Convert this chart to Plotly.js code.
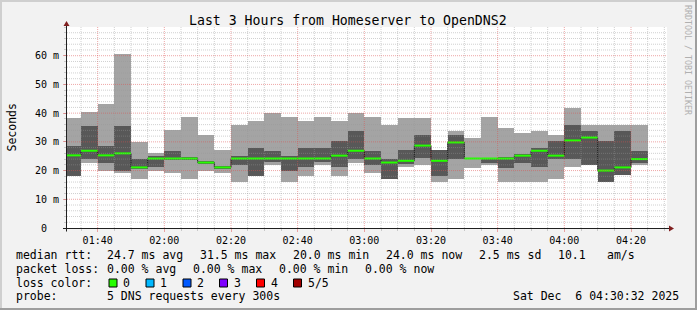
<!DOCTYPE html>
<html><head><meta charset="utf-8">
<script src="https://cdn.plot.ly/plotly-3.0.1.min.js"></script>
<style>html,body{margin:0;padding:0;background:#f2f2f2;}#chart{width:697px;height:310px;}</style>
</head><body><div id="chart"></div>
<script>
// ---------- data ----------
const day = '2025-12-06 ';
const binStarts = ['01:30','01:35','01:40','01:45','01:50','01:55','02:00','02:05','02:10','02:15',
  '02:20','02:25','02:30','02:35','02:40','02:45','02:50','02:55','03:00','03:05',
  '03:10','03:15','03:20','03:25','03:30','03:35','03:40','03:45','03:50','03:55',
  '04:00','04:05','04:10','04:15','04:20'];
// RTT in ms for the 5 sorted pings of each 5-minute step
const pingMin = [18.2,22.8,20.0,19.0,17.2,20.0,19.0,17.2,20.0,19.0,16.1,18.2,21.8,16.1,18.2,21.8,18.2,22.8,19.0,17.1,21.4,21.8,16.1,17.1,21.0,21.8,16.1,16.1,16.1,17.2,21.1,21.8,16.1,18.3,21.8];
const pingLo  = [18.2,24.1,22.8,20.0,20.5,21.1,23.6,23.8,22.4,20.6,21.8,18.2,22.9,20.0,21.3,22.9,21.1,24.1,21.8,17.1,22.4,24.5,18.2,24.2,23.9,22.8,21.0,22.8,21.1,24.2,24.2,21.8,16.1,18.3,22.8];
const pingMed = [25.3,26.9,25.3,26.0,21.1,24.2,24.2,24.2,22.8,21.1,24.2,24.2,24.2,24.2,24.2,24.2,25.2,26.9,24.2,22.8,23.4,28.7,23.4,29.8,24.2,24.2,24.2,25.2,26.9,25.2,30.5,31.5,20.0,21.1,24.0];
const pingHi  = [28.6,35.6,28.6,35.6,24.1,25.1,26.9,24.6,23.2,21.5,25.2,27.9,26.9,25.1,27.9,27.9,30.4,33.8,26.9,24.1,27.2,32.5,27.2,32.5,24.5,24.5,24.6,25.8,27.9,30.4,35.9,33.8,30.4,33.8,26.9];
const pingMax = [38.4,40.4,43.2,60.6,29.8,26.2,34.2,38.7,32.5,27.2,36.0,37.1,40.1,38.7,37.1,38.7,37.1,40.1,38.7,36.0,38.4,38.4,27.2,33.8,31.5,38.7,34.9,33.2,33.8,32.5,41.8,35.9,35.9,35.9,35.9];

const yTickVals = [0,10,20,30,40,50,60];
const yTickText = ['0  ','10 m','20 m','30 m','40 m','50 m','60 m'];
const titleText = 'Last 3 Hours from Homeserver to OpenDNS2';
const yTitle = 'Seconds';
const rttLabels = ['median rtt:','24.7 ms avg','31.5 ms max','20.0 ms min','24.0 ms now','2.5 ms sd','10.1','am/s'];
const lossLabelsRow = ['packet loss:','0.00 % avg','0.00 % max','0.00 % min','0.00 % now'];
const lossColorLabel = 'loss color:';
const lossLabels = ['0','1','2','3','4','5/5'];
const lossColors = ['#26ff00','#00b8ff','#0059ff','#7e00ff','#ff0000','#a10000'];
const probeLabels = ['probe:','5 DNS requests every 300s'];
const dateStamp = 'Sat Dec  6 04:30:32 2025';
const sideText = 'RRDTOOL / TOBI OETIKER';

// ---------- helpers ----------
const STEP = 300000;
function addMin(hhmm, m){const [h,mm]=hhmm.split(':').map(Number);const t=h*60+mm+m;return String(Math.floor(t/60)).padStart(2,'0')+':'+String(t%60).padStart(2,'0');}
const L=67, T=27, W=600, H=201;
const X = px => (px-L)/W;
const Y = py => (T+H-py)/H;
const nb = s => s.replace(/ /g,'\u00a0');
const MONO = 'DejaVu Sans Mono';
function ann(text, px, py, o){return Object.assign({xref:'paper',yref:'paper',x:X(px-1.5),y:Y(py),text:nb(text),showarrow:false,xanchor:'left',yanchor:'middle',borderpad:0,font:{family:MONO,size:11.5,color:'#000'}},o||{});}

const xs = binStarts.map(s=>day+s);

// ---------- traces ----------
const outer = {type:'bar', x:xs, base:pingMin, y:pingMax.map((v,i)=>v-pingMin[i]), offset:0, width:STEP,
  marker:{color:'#a4a4a4', line:{width:0}}, hoverinfo:'skip'};
const inner = {type:'bar', x:xs, base:pingLo, y:pingHi.map((v,i)=>v-pingLo[i]), offset:0, width:STEP,
  marker:{color:'#585858', line:{width:0}}, hoverinfo:'skip'};
const stepX = xs.concat([day+addMin(binStarts[binStarts.length-1],5)]);
const stepY = pingMed.concat([pingMed[pingMed.length-1]]);
const medStep = {type:'scatter', mode:'lines', x:stepX, y:stepY, line:{shape:'hv', color:'#202020', width:1}, hoverinfo:'skip'};
const gx=[], gy=[];
binStarts.forEach((s,i)=>{gx.push(day+s, day+addMin(s,5), null); gy.push(pingMed[i], pingMed[i], null);});
const medGreen = {type:'scatter', mode:'lines', x:gx, y:gy, line:{color:lossColors[0], width:2}, connectgaps:false, hoverinfo:'skip'};

// ---------- shapes (grid on top, axes, frame) ----------
const shapes = [];
const minorCol='rgba(150,150,150,0.45)', majorCol='rgba(222,79,79,0.5)';
for(let t=95; t<=270; t+=5){ // minutes after 00:00, 01:35 .. 04:30
  const hh=String(Math.floor(t/60)).padStart(2,'0'), mm=String(t%60).padStart(2,'0');
  const major = t%20===0;
  shapes.push({type:'line', layer:'above', xref:'x', yref:'paper', x0:day+hh+':'+mm, x1:day+hh+':'+mm, y0:0, y1:1,
    line:{color: major?majorCol:minorCol, width:1, dash:'1px,1px'}});
}
for(let v=2; v<=68; v+=2){
  const major = v%10===0;
  shapes.push({type:'line', layer:'above', xref:'paper', yref:'y', x0:0, x1:1, y0:v, y1:v,
    line:{color: major?majorCol:minorCol, width:1, dash:'1px,1px'}});
}
// axes
shapes.push({type:'line', layer:'above', xref:'paper', yref:'paper', x0:X(63), x1:X(670), y0:Y(228.5), y1:Y(228.5), line:{color:'#1f1f1f', width:1}});
shapes.push({type:'line', layer:'above', xref:'paper', yref:'paper', x0:X(66.5), x1:X(66.5), y0:Y(231.5), y1:Y(25), line:{color:'#1f1f1f', width:1}});
shapes.push({type:'path', layer:'above', xref:'paper', yref:'paper',
  path:`M ${X(669)} ${Y(225.5)} L ${X(674)} ${Y(228.5)} L ${X(669)} ${Y(231.5)} Z`, fillcolor:'#801f1f', line:{width:0}});
shapes.push({type:'path', layer:'above', xref:'paper', yref:'paper',
  path:`M ${X(63.5)} ${Y(26)} L ${X(66.5)} ${Y(21)} L ${X(69.5)} ${Y(26)} Z`, fillcolor:'#801f1f', line:{width:0}});
// frame shading
const rect=(x0,y0,x1,y1,c)=>({type:'rect', layer:'above', xref:'paper', yref:'paper', x0:X(x0), x1:X(x1), y0:Y(y0), y1:Y(y1), fillcolor:c, line:{width:0}});
shapes.push(rect(0,0,697,2,'#cfcfcf'));
shapes.push(rect(0,0,2,310,'#cfcfcf'));
shapes.push(rect(0,308,697,310,'#9e9e9e'));
shapes.push(rect(695,0,697,310,'#9e9e9e'));
// loss colour boxes
const boxX=[109,146,183,219.5,256.5,293.5];
lossColors.forEach((c,i)=>{shapes.push({type:'rect', layer:'above', xref:'paper', yref:'paper',
  x0:X(boxX[i]), x1:X(boxX[i]+8), y0:Y(279), y1:Y(287), fillcolor:c, line:{color:'#000', width:1}});});

// ---------- annotations ----------
const anns = [];
anns.push({xref:'paper', yref:'paper', x:X(347.5), y:Y(20), text:nb(titleText), showarrow:false, xanchor:'center', yanchor:'middle', font:{family:MONO, size:13.2, color:'#000'}});
anns.push({xref:'paper', yref:'paper', x:X(11), y:Y(127.5), text:yTitle, textangle:-90, showarrow:false, xanchor:'center', yanchor:'middle', font:{family:MONO, size:11.5, color:'#000'}});
anns.push({xref:'paper', yref:'paper', x:X(688), y:Y(60), text:nb(sideText), textangle:90, showarrow:false, xanchor:'center', yanchor:'middle', font:{family:MONO, size:8.3, color:'#b0b0b0'}});
const r1x=[16,107.3,200.3,293.3,386,479,558.7,607.3];
rttLabels.forEach((t,i)=>anns.push(ann(t, r1x[i], 254.8)));
const r2x=[16,107.3,193.3,279.3,365.3];
lossLabelsRow.forEach((t,i)=>anns.push(ann(t, r2x[i], 268.5)));
anns.push(ann(lossColorLabel, 16, 282.5));
lossLabels.forEach((t,i)=>anns.push(ann(t, boxX[i]+14.5, 282.5)));
anns.push(ann(probeLabels[0], 16, 296));
anns.push(ann(probeLabels[1], 107.3, 296));
anns.push(ann(dateStamp, 513, 296));

// ---------- layout ----------
const layout = {
  width:697, height:310,
  margin:{l:L, r:697-L-W, t:T, b:310-T-H, pad:0},
  paper_bgcolor:'#f2f2f2', plot_bgcolor:'#ffffff',
  showlegend:false, barmode:'overlay', bargap:0,
  xaxis:{type:'date', range:[day+'01:30:48', day+'04:30:48'], showgrid:false, zeroline:false, showline:false,
    tick0:day+'00:00', dtick:1200000, tickformat:'%H:%M', ticks:'outside', ticklen:3, tickcolor:majorCol,
    tickfont:{family:MONO, size:10, color:'#000'},
    minor:{dtick:STEP, ticks:'outside', ticklen:2, tickcolor:minorCol, showgrid:false}, fixedrange:true},
  yaxis:{range:[0,70], tickvals:yTickVals, ticktext:yTickText.map(nb), showgrid:false, zeroline:false, showline:false,
    ticks:'outside', ticklen:3, tickcolor:majorCol, ticklabelstandoff:2,
    tickfont:{family:MONO, size:10, color:'#000'},
    minor:{dtick:2, ticks:'outside', ticklen:2, tickcolor:minorCol, showgrid:false}, fixedrange:true},
  shapes:shapes, annotations:anns
};
Plotly.newPlot('chart', [outer, inner, medStep, medGreen], layout, {displayModeBar:false, staticPlot:true});
</script></body></html>
